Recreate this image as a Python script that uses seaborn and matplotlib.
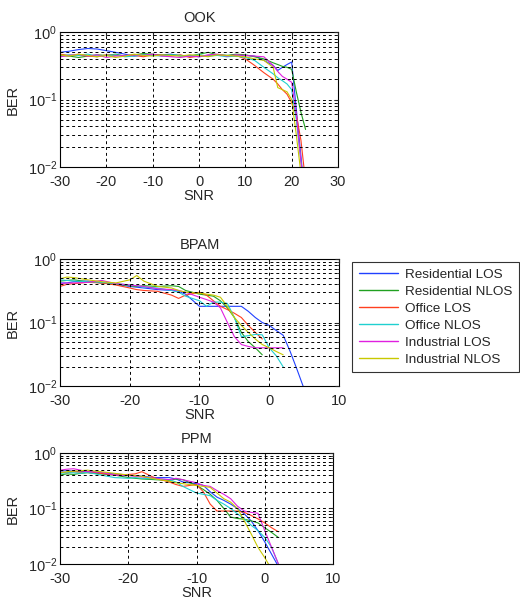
import numpy as np
import pandas as pd
import matplotlib
matplotlib.use('Agg')
import matplotlib.pyplot as plt
import seaborn as sns
from matplotlib.ticker import LogLocator, LogFormatterMathtext, NullFormatter, FixedLocator

nan = np.nan

# 各场景名称与颜色
scenarios = ['Residential LOS', 'Residential NLOS', 'Office LOS',
             'Office NLOS', 'Industrial LOS', 'Industrial NLOS']
colors = ['#2040ff', '#20a020', '#ff4020', '#20d0d0', '#e020e0', '#c8c800']

# OOK
ook_snr = [-30, -28, -26, -24, -22, -20, -18, -16, -14, -12, -10, -8, -6, -4, -2, 0,
           2, 4, 6, 8, 10, 12, 14, 16, 17, 18, 19, 20, 21, 22, 23, 24]
ook_ber = [
    [0.50, 0.52, 0.55, 0.57, 0.56, 0.53, 0.50, 0.47, 0.44, 0.46, 0.45, 0.46, 0.47, 0.44, 0.45, 0.43,
     0.45, 0.46, 0.45, 0.44, 0.45, 0.44, 0.38, 0.32, 0.27, 0.30, 0.33, 0.36, 0.072, 0.0145, 0.003, nan],
    [0.45, 0.44, 0.42, 0.44, 0.46, 0.45, 0.47, 0.44, 0.46, 0.48, 0.47, 0.45, 0.46, 0.45, 0.44, 0.47,
     0.50, 0.46, 0.45, 0.47, 0.46, 0.43, 0.40, 0.35, 0.33, 0.31, 0.30, 0.28, 0.13, 0.065, 0.036, nan],
    [0.47, 0.45, 0.46, 0.44, 0.43, 0.46, 0.45, 0.44, 0.45, 0.43, 0.46, 0.45, 0.44, 0.46, 0.42, 0.44,
     0.45, 0.46, 0.44, 0.45, 0.40, 0.32, 0.25, 0.20, 0.17, 0.14, 0.12, 0.09, 0.06, 0.025, 0.006, nan],
    [0.44, 0.46, 0.45, 0.47, 0.44, 0.45, 0.46, 0.43, 0.44, 0.46, 0.45, 0.44, 0.46, 0.45, 0.44, 0.46,
     0.44, 0.45, 0.43, 0.44, 0.42, 0.38, 0.30, 0.24, 0.21, 0.19, 0.17, 0.14, 0.05, 0.012, 0.003, nan],
    [0.43, 0.45, 0.47, 0.44, 0.46, 0.42, 0.44, 0.45, 0.46, 0.45, 0.47, 0.44, 0.43, 0.42, 0.44, 0.43,
     0.46, 0.47, 0.44, 0.46, 0.45, 0.44, 0.43, 0.32, 0.26, 0.22, 0.20, 0.18, 0.06, 0.012, 0.003, nan],
    [0.46, 0.44, 0.47, 0.45, 0.43, 0.45, 0.42, 0.44, 0.47, 0.45, 0.44, 0.46, 0.45, 0.44, 0.46, 0.45,
     0.43, 0.46, 0.45, 0.44, 0.43, 0.40, 0.38, 0.30, 0.15, 0.14, 0.13, 0.10, 0.03, 0.008, 0.002, nan],
]

# BPAM
bpam_snr = [-30, -29, -28, -26, -24, -22, -20, -19, -18, -16, -14, -13, -12, -10, -9, -8,
            -7, -6, -5, -4, -3, -2, -1, 0, 1, 2, 3, 4, 5, 6]
bpam_ber = [
    [0.42, 0.42, 0.44, 0.45, 0.42, 0.40, 0.37, 0.36, 0.35, 0.33, 0.32, 0.31, 0.28, 0.18, 0.18, 0.18,
     0.18, 0.18, 0.18, 0.18, 0.15, 0.12, 0.10, 0.09, 0.075, 0.063, 0.035, 0.018, 0.009, nan],
    [0.45, 0.46, 0.47, 0.44, 0.42, 0.40, 0.38, 0.37, 0.38, 0.37, 0.38, 0.37, 0.32, 0.28, 0.27, 0.26,
     0.22, 0.17, 0.12, 0.07, 0.05, 0.04, 0.031, nan, nan, nan, nan, nan, nan, nan],
    [0.37, 0.40, 0.41, 0.43, 0.42, 0.39, 0.35, 0.33, 0.32, 0.31, 0.27, 0.24, 0.27, 0.30, 0.27, 0.22,
     0.18, 0.16, 0.14, 0.12, 0.09, 0.07, 0.055, nan, nan, nan, nan, nan, nan, nan],
    [0.47, 0.46, 0.45, 0.44, 0.43, 0.41, 0.39, 0.38, 0.36, 0.35, 0.32, 0.30, 0.26, 0.22, 0.18, 0.21,
     0.21, 0.20, 0.12, 0.06, 0.062, 0.065, 0.064, 0.04, 0.03, 0.02, nan, nan, nan, nan],
    [0.41, 0.42, 0.42, 0.43, 0.46, 0.41, 0.39, 0.38, 0.37, 0.34, 0.33, 0.32, 0.30, 0.25, 0.23, 0.21,
     0.17, 0.10, 0.06, 0.045, 0.042, 0.040, 0.040, 0.040, 0.040, 0.040, nan, nan, nan, nan],
    [0.49, 0.52, 0.51, 0.47, 0.44, 0.42, 0.47, 0.55, 0.45, 0.37, 0.35, 0.32, 0.30, 0.29, 0.28, 0.27,
     0.25, 0.18, 0.12, 0.09, 0.07, 0.055, 0.045, 0.04, 0.035, 0.031, nan, nan, nan, nan],
]

# PPM
ppm_snr = [-30, -29, -28, -27, -26, -24, -22, -20, -19, -18, -16, -14, -13, -12, -10, -9,
           -8, -7, -6, -5, -4, -3, -2, -1, 0, 1, 2, 3]
ppm_ber = [
    [0.47, 0.48, 0.47, 0.46, 0.47, 0.44, 0.42, 0.40, 0.39, 0.38, 0.36, 0.36, 0.34, 0.30, 0.28, 0.26,
     0.20, 0.16, 0.14, 0.12, 0.10, 0.08, 0.06, 0.04, 0.025, 0.015, 0.009, nan],
    [0.40, 0.42, 0.41, 0.43, 0.44, 0.42, 0.40, 0.36, 0.35, 0.34, 0.33, 0.32, 0.34, 0.33, 0.26, 0.22,
     0.18, 0.14, 0.10, 0.07, 0.066, 0.064, 0.060, 0.055, 0.045, 0.037, 0.030, nan],
    [0.45, 0.44, 0.46, 0.45, 0.46, 0.43, 0.40, 0.41, 0.42, 0.46, 0.35, 0.30, 0.27, 0.25, 0.27, 0.20,
     0.12, 0.09, 0.09, 0.09, 0.09, 0.085, 0.075, 0.065, 0.055, 0.045, 0.038, nan],
    [0.43, 0.44, 0.44, 0.43, 0.45, 0.40, 0.36, 0.35, 0.36, 0.35, 0.34, 0.33, 0.30, 0.25, 0.19, 0.18,
     0.17, 0.14, 0.12, 0.10, 0.08, 0.065, 0.05, 0.04, 0.03, 0.02, 0.01, nan],
    [0.49, 0.51, 0.52, 0.49, 0.46, 0.45, 0.40, 0.39, 0.38, 0.37, 0.35, 0.33, 0.35, 0.33, 0.29, 0.26,
     0.25, 0.21, 0.18, 0.15, 0.11, 0.09, 0.085, 0.082, 0.04, 0.02, 0.01, nan],
    [0.44, 0.46, 0.47, 0.48, 0.49, 0.46, 0.43, 0.40, 0.39, 0.38, 0.34, 0.31, 0.29, 0.28, 0.26, 0.25,
     0.24, 0.19, 0.15, 0.13, 0.10, 0.06, 0.035, 0.02, 0.013, 0.008, nan, nan],
]

sns.set_style('white')
plt.rcParams['font.family'] = ['Liberation Sans', 'DejaVu Sans']
plt.rcParams['mathtext.default'] = 'regular'
plt.rcParams['axes.unicode_minus'] = False
plt.rcParams['font.size'] = 10


def to_frame(snr, ber):
    rows = []
    for name, vals in zip(scenarios, ber):
        for s, b in zip(snr, vals):
            rows.append({'SNR': s, 'BER': b, 'Scenario': name})
    return pd.DataFrame(rows).dropna()


def draw_panel(fig, rect, title, snr, ber, xlim, xticks):
    ax = fig.add_axes(rect)
    df = to_frame(snr, ber)
    sns.lineplot(data=df, x='SNR', y='BER', hue='Scenario', hue_order=scenarios,
                 palette=colors, linewidth=0.8, ax=ax, legend=False, sort=False,
                 estimator=None)
    ax.set_yscale('log')
    ax.set_ylim(1e-2, 1)
    ax.set_xlim(*xlim)
    ax.set_xticks(xticks)
    ax.yaxis.set_major_locator(FixedLocator([1e-2, 1e-1, 1]))
    ax.yaxis.set_major_formatter(LogFormatterMathtext())
    ax.yaxis.set_minor_locator(LogLocator(base=10, subs=np.arange(2, 10)))
    ax.yaxis.set_minor_formatter(NullFormatter())
    ax.grid(True, which='major', axis='both', color='black', linestyle=(0, (3, 3)), linewidth=0.7)
    ax.grid(True, which='minor', axis='y', color='black', linestyle=(0, (3, 3)), linewidth=0.7)
    ax.set_axisbelow(False)
    ax.tick_params(which='both', direction='in', top=True, right=True, length=3,
                   labelsize=10.5, pad=2)
    ax.tick_params(axis='x', pad=6)
    ax.tick_params(which='minor', length=1.5)
    for sp in ax.spines.values():
        sp.set_color('black')
        sp.set_linewidth(0.8)
    ax.set_title(title, fontsize=10.5, pad=7)
    ax.set_xlabel('SNR', fontsize=10.5, labelpad=0)
    ax.set_ylabel('BER', fontsize=10.5, labelpad=6)
    return ax


fig = plt.figure(figsize=(5.2, 6.01), dpi=100)
draw_panel(fig, [0.1154, 0.7221, 0.5346, 0.2246], 'OOK', ook_snr, ook_ber, (-30, 30),
           [-30, -20, -10, 0, 10, 20, 30])
draw_panel(fig, [0.1154, 0.3577, 0.5365, 0.2113], 'BPAM', bpam_snr, bpam_ber, (-30, 10),
           [-30, -20, -10, 0, 10])
draw_panel(fig, [0.1154, 0.0616, 0.5250, 0.1847], 'PPM', ppm_snr, ppm_ber, (-30, 10),
           [-30, -20, -10, 0, 10])

handles = [plt.Line2D([], [], color=c, linewidth=1.0) for c in colors]
leg = fig.legend(handles, scenarios, loc='upper left', bbox_to_anchor=(0.677, 0.564),
                 bbox_transform=fig.transFigure, fontsize=9.7, frameon=True, fancybox=False,
                 handlelength=2.9, handletextpad=0.5, labelspacing=0.33, borderpad=0.5,
                 borderaxespad=0)
leg.get_frame().set_edgecolor('black')
leg.get_frame().set_linewidth(0.8)

fig.savefig('out.png', dpi=100)
